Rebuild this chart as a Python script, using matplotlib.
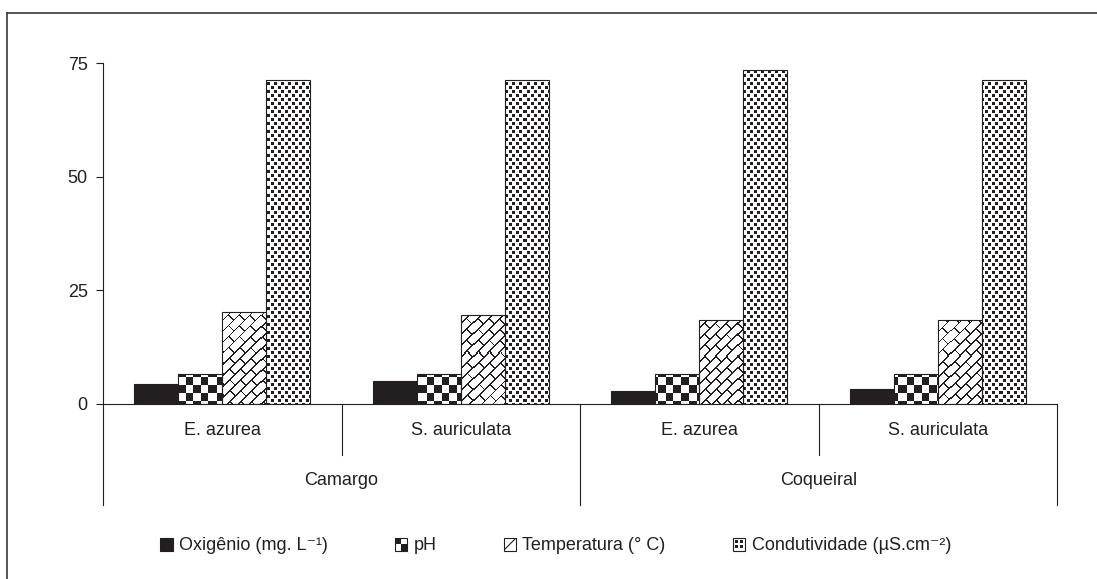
import numpy as np
import matplotlib
matplotlib.use('Agg')
import matplotlib.pyplot as plt
from matplotlib.patches import Patch, Rectangle
from matplotlib.lines import Line2D
from matplotlib.legend_handler import HandlerBase
from matplotlib.colors import ListedColormap

plt.rcParams['font.family'] = ['Liberation Sans', 'DejaVu Sans']

# data
sites = ['Camargo', 'Coqueiral']
species = ['E. azurea', 'S. auriculata', 'E. azurea', 'S. auriculata']
series = ['Oxigênio (mg. L⁻¹)', 'pH', 'Temperatura (° C)', 'Condutividade (µS.cm⁻²)']
oxigenio = [4.3, 5.1, 2.8, 3.4]
ph = [6.6, 6.6, 6.6, 6.6]
temperatura = [20.2, 19.6, 18.5, 18.5]
condutividade = [71.3, 71.3, 73.5, 71.3]
yticks = [0, 25, 50, 75]

dark = '#231f20'
fs = 13

# axes box in pixels (figure is 1097 x 579)
L, R, T, B = 103, 1057, 63, 404
W, H = R - L, B - T

# fill textures, one pixel per screen pixel of the axes
jj, ii = np.meshgrid(np.arange(W), np.arange(H))
checker = (((jj / 7.5).astype(int) + (ii / 7.5).astype(int)) % 2).astype(float)

s = (jj + ii) / np.sqrt(2)
t = (jj - ii) / np.sqrt(2)
P, Q, lw = 7.8, 15.0, 1.3
k = np.floor(s / P)
brick = (((s % P) < lw) | (((t + (k % 2) * Q / 2) % Q) < lw)).astype(float)

a = ((jj % 7) < 3) & ((ii % 8) < 3)
b = (((jj + 4) % 7) < 3) & (((ii + 4) % 8) < 3)
dots = (a | b).astype(float)

cmap = ListedColormap(['white', dark])

fig = plt.figure(figsize=(10.97, 5.79), dpi=100)
ax = fig.add_axes([L / 1097, 1 - B / 579, W / 1097, H / 579])

x = np.arange(len(species))
width = 0.185
offsets = (np.arange(4) - 1.5) * width
values = [oxigenio, ph, temperatura, condutividade]
textures = [None, checker, brick, dots]

for vals, off, tex in zip(values, offsets, textures):
    if tex is None:
        ax.bar(x + off, vals, width, color=dark, edgecolor=dark, linewidth=0.8, zorder=2)
        continue
    bars = ax.bar(x + off, vals, width, color='white', edgecolor='none', zorder=1)
    for bar in bars:
        im = ax.imshow(tex, cmap=cmap, vmin=0, vmax=1, extent=(-0.5, 3.5, 0, 75),
                       aspect='auto', interpolation='nearest', zorder=2)
        im.set_clip_path(bar)
    ax.bar(x + off, vals, width, fill=False, edgecolor=dark, linewidth=0.8, zorder=3)

ax.set_xlim(-0.5, 3.5)
ax.set_ylim(0, 75)
ax.set_yticks(yticks)
ax.set_xticks([])
for side in ['top', 'right']:
    ax.spines[side].set_visible(False)
for side in ['left', 'bottom']:
    ax.spines[side].set_color(dark)
    ax.spines[side].set_linewidth(0.8)
ax.tick_params(axis='y', direction='out', length=5, width=0.8, color=dark,
               labelsize=fs, pad=6, labelcolor=dark)

# two-level category axis
trans = ax.get_xaxis_transform()
for xb in [-0.5, 1.5, 3.5]:
    ax.plot([xb, xb], [0, -0.296], transform=trans, color=dark, lw=0.8, clip_on=False)
for xb in [0.5, 2.5]:
    ax.plot([xb, xb], [0, -0.15], transform=trans, color=dark, lw=0.8, clip_on=False)
for xi, name in zip(x, species):
    ax.text(xi, -0.079, name, transform=trans, ha='center', va='center',
            fontsize=fs, color=dark)
for i, site in enumerate(sites):
    ax.text(2 * i + 0.5, -0.223, site, transform=trans, ha='center', va='center',
            fontsize=fs, color=dark)


class Swatch(HandlerBase):
    def __init__(self, kind):
        super().__init__()
        self.kind = kind

    def create_artists(self, legend, orig_handle, xdescent, ydescent, width, height,
                       fontsize, trans):
        sz = min(width, height)
        x0, y0 = -xdescent + (width - sz), -ydescent + (height - sz) / 2
        fc = dark if self.kind == 'solid' else 'white'
        arts = [Rectangle((x0, y0), sz, sz, facecolor=fc, edgecolor=dark, lw=0.8,
                          transform=trans)]
        h = sz / 2
        if self.kind == 'checker':
            arts.append(Rectangle((x0, y0 + h), h, h, fc=dark, ec='none', transform=trans))
            arts.append(Rectangle((x0 + h, y0), h, h, fc=dark, ec='none', transform=trans))
        elif self.kind == 'diag':
            arts.append(Line2D([x0 + 1, x0 + sz - 1], [y0 + 1, y0 + sz - 1], color=dark,
                               lw=0.8, transform=trans))
        elif self.kind == 'dots':
            d = sz * 0.22
            for fx, fy in [(0.2, 0.6), (0.58, 0.6), (0.2, 0.2), (0.58, 0.2)]:
                arts.append(Rectangle((x0 + fx * sz, y0 + fy * sz), d, d, fc=dark,
                                      ec='none', transform=trans))
        return arts


handles = [Patch() for _ in series]
kinds = ['solid', 'checker', 'diag', 'dots']
fig.legend(handles, series, handler_map={h: Swatch(kd) for h, kd in zip(handles, kinds)},
           loc='center', bbox_to_anchor=(0.5 + 7 / 1097, 1 - 546 / 579), ncol=4,
           frameon=False, fontsize=fs, handlelength=0.7, handleheight=0.7,
           handletextpad=0.35, columnspacing=3.7, labelcolor=dark)

# outer frame (top and left edges only are visible)
fig.add_artist(Line2D([7 / 1097, 1], [1 - 13 / 579] * 2, transform=fig.transFigure,
                      color='#3a3a3a', lw=1.2))
fig.add_artist(Line2D([7 / 1097] * 2, [0, 1 - 13 / 579], transform=fig.transFigure,
                      color='#3a3a3a', lw=1.2))

fig.savefig('out.png', dpi=100)
